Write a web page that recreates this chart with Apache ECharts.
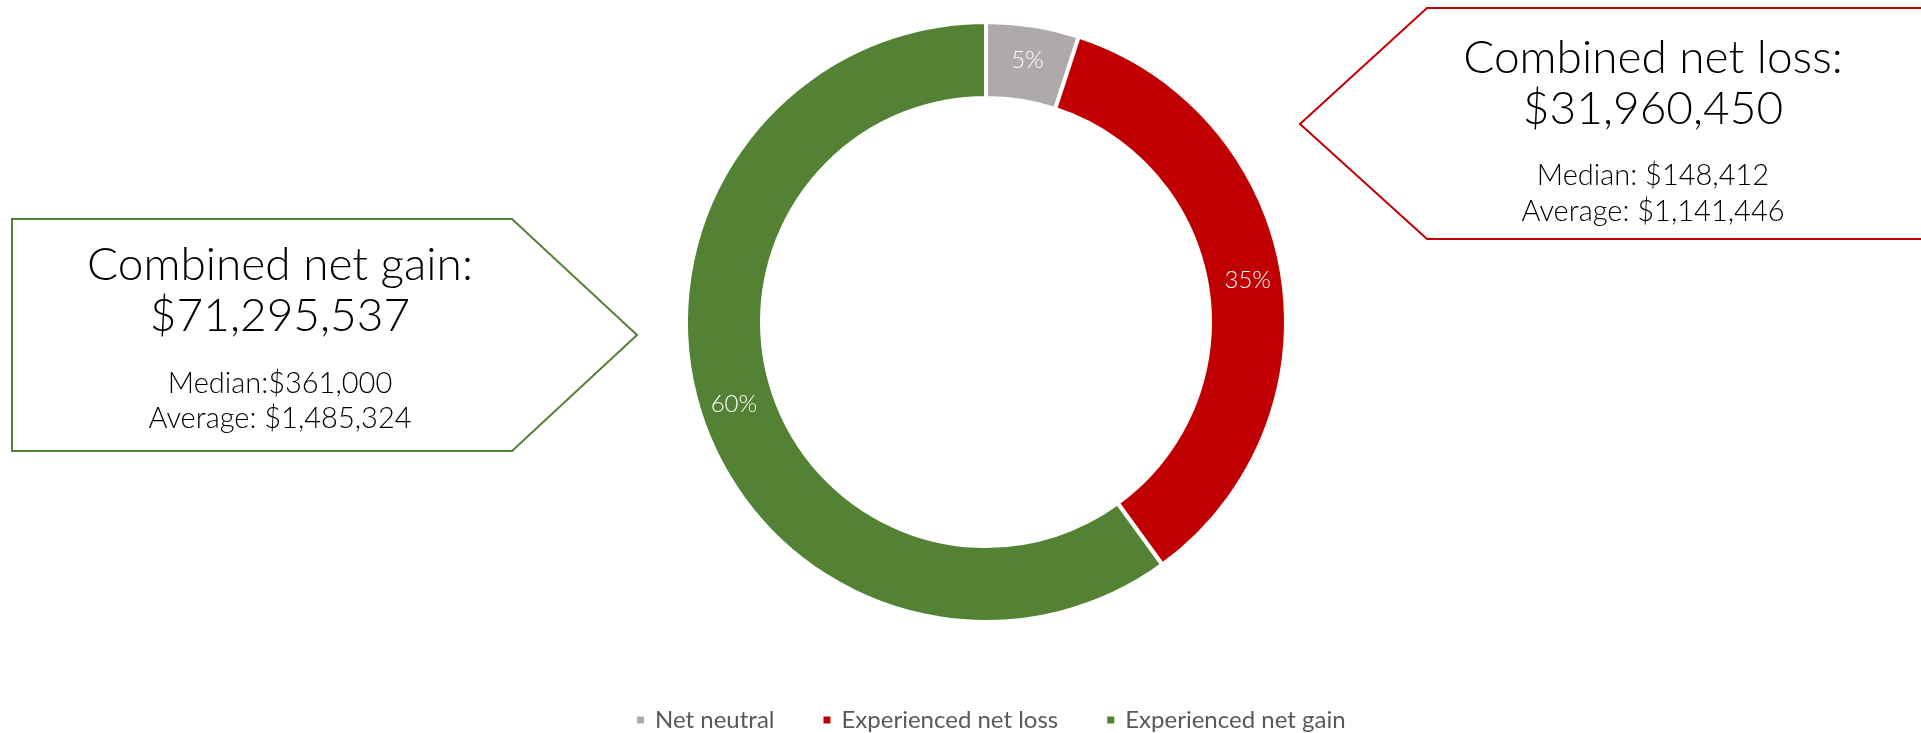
<!DOCTYPE html>
<html>
<head>
<meta charset="utf-8">
<script src="https://cdn.jsdelivr.net/npm/echarts@6/dist/echarts.min.js"></script>
<style>
  html, body { margin: 0; padding: 0; background: #ffffff; }
  #chart { width: 1921px; height: 733px; }
</style>
</head>
<body>
<div id="chart"></div>
<script>
// Outcome groups and the number of respondents in each
const categories = ['Net neutral', 'Experienced net loss', 'Experienced net gain'];
const counts = [4, 28, 48];
const colors = ['#AEAAAA', '#C00000', '#548235'];

// Summary figures shown in the callouts
const gainSummary = { total: '$71,295,537', median: '$361,000', average: '$1,485,324' };
const lossSummary = { total: '$31,960,450', median: '$148,412', average: '$1,141,446' };

const FONT = 'Lato, "Noto Sans", sans-serif';

const chart = echarts.init(document.getElementById('chart'), null, { renderer: 'canvas' });

function callout(points, color) {
  return {
    type: 'polygon',
    shape: { points: points },
    style: { fill: '#ffffff', stroke: color, lineWidth: 2 },
    z: 1
  };
}

function text(x, y, str, size, weight) {
  return {
    type: 'text',
    x: x, y: y,
    style: {
      text: str,
      fill: '#000000',
      font: weight + ' ' + size + 'px ' + FONT,
      textAlign: 'center',
      textVerticalAlign: 'middle'
    },
    z: 2
  };
}

chart.setOption({
  backgroundColor: '#ffffff',
  animation: false,
  color: colors,
  legend: {
    data: categories,
    top: 703,
    left: 630,
    itemWidth: 9,
    itemHeight: 9,
    itemGap: 47,
    icon: 'rect',
    textStyle: { color: '#595959', fontSize: 24, fontFamily: FONT, padding: [0, 0, 0, 5] }
  },
  series: [{
    type: 'pie',
    center: [986, 322],
    radius: [224, 300],
    startAngle: 90,
    clockwise: true,
    avoidLabelOverlap: false,
    itemStyle: { borderColor: '#ffffff', borderWidth: 4 },
    label: {
      show: true,
      position: 'inside',
      color: '#ffffff',
      fontSize: 24,
      fontFamily: FONT,
      fontWeight: 300,
      formatter: p => Math.round(p.percent) + '%'
    },
    labelLine: { show: false },
    emphasis: { disabled: true },
    data: categories.map((name, i) => ({ name: name, value: counts[i] }))
  }],
  graphic: [
    callout([[12, 219], [512, 219], [637, 335], [512, 451], [12, 451]], '#548235'),
    text(280, 265, 'Combined net gain:', 46, 300),
    text(280, 316, gainSummary.total, 46, 300),
    text(280, 384, 'Median:' + gainSummary.median, 29, 300),
    text(280, 419, 'Average: ' + gainSummary.average, 29, 300),
    callout([[1300, 124], [1427, 8], [1930, 8], [1930, 239], [1427, 239]], '#C00000'),
    text(1653, 58, 'Combined net loss:', 46, 300),
    text(1653, 109, lossSummary.total, 46, 300),
    text(1653, 176, 'Median: ' + lossSummary.median, 29, 300),
    text(1653, 212, 'Average: ' + lossSummary.average, 29, 300)
  ]
});
</script>
</body>
</html>
